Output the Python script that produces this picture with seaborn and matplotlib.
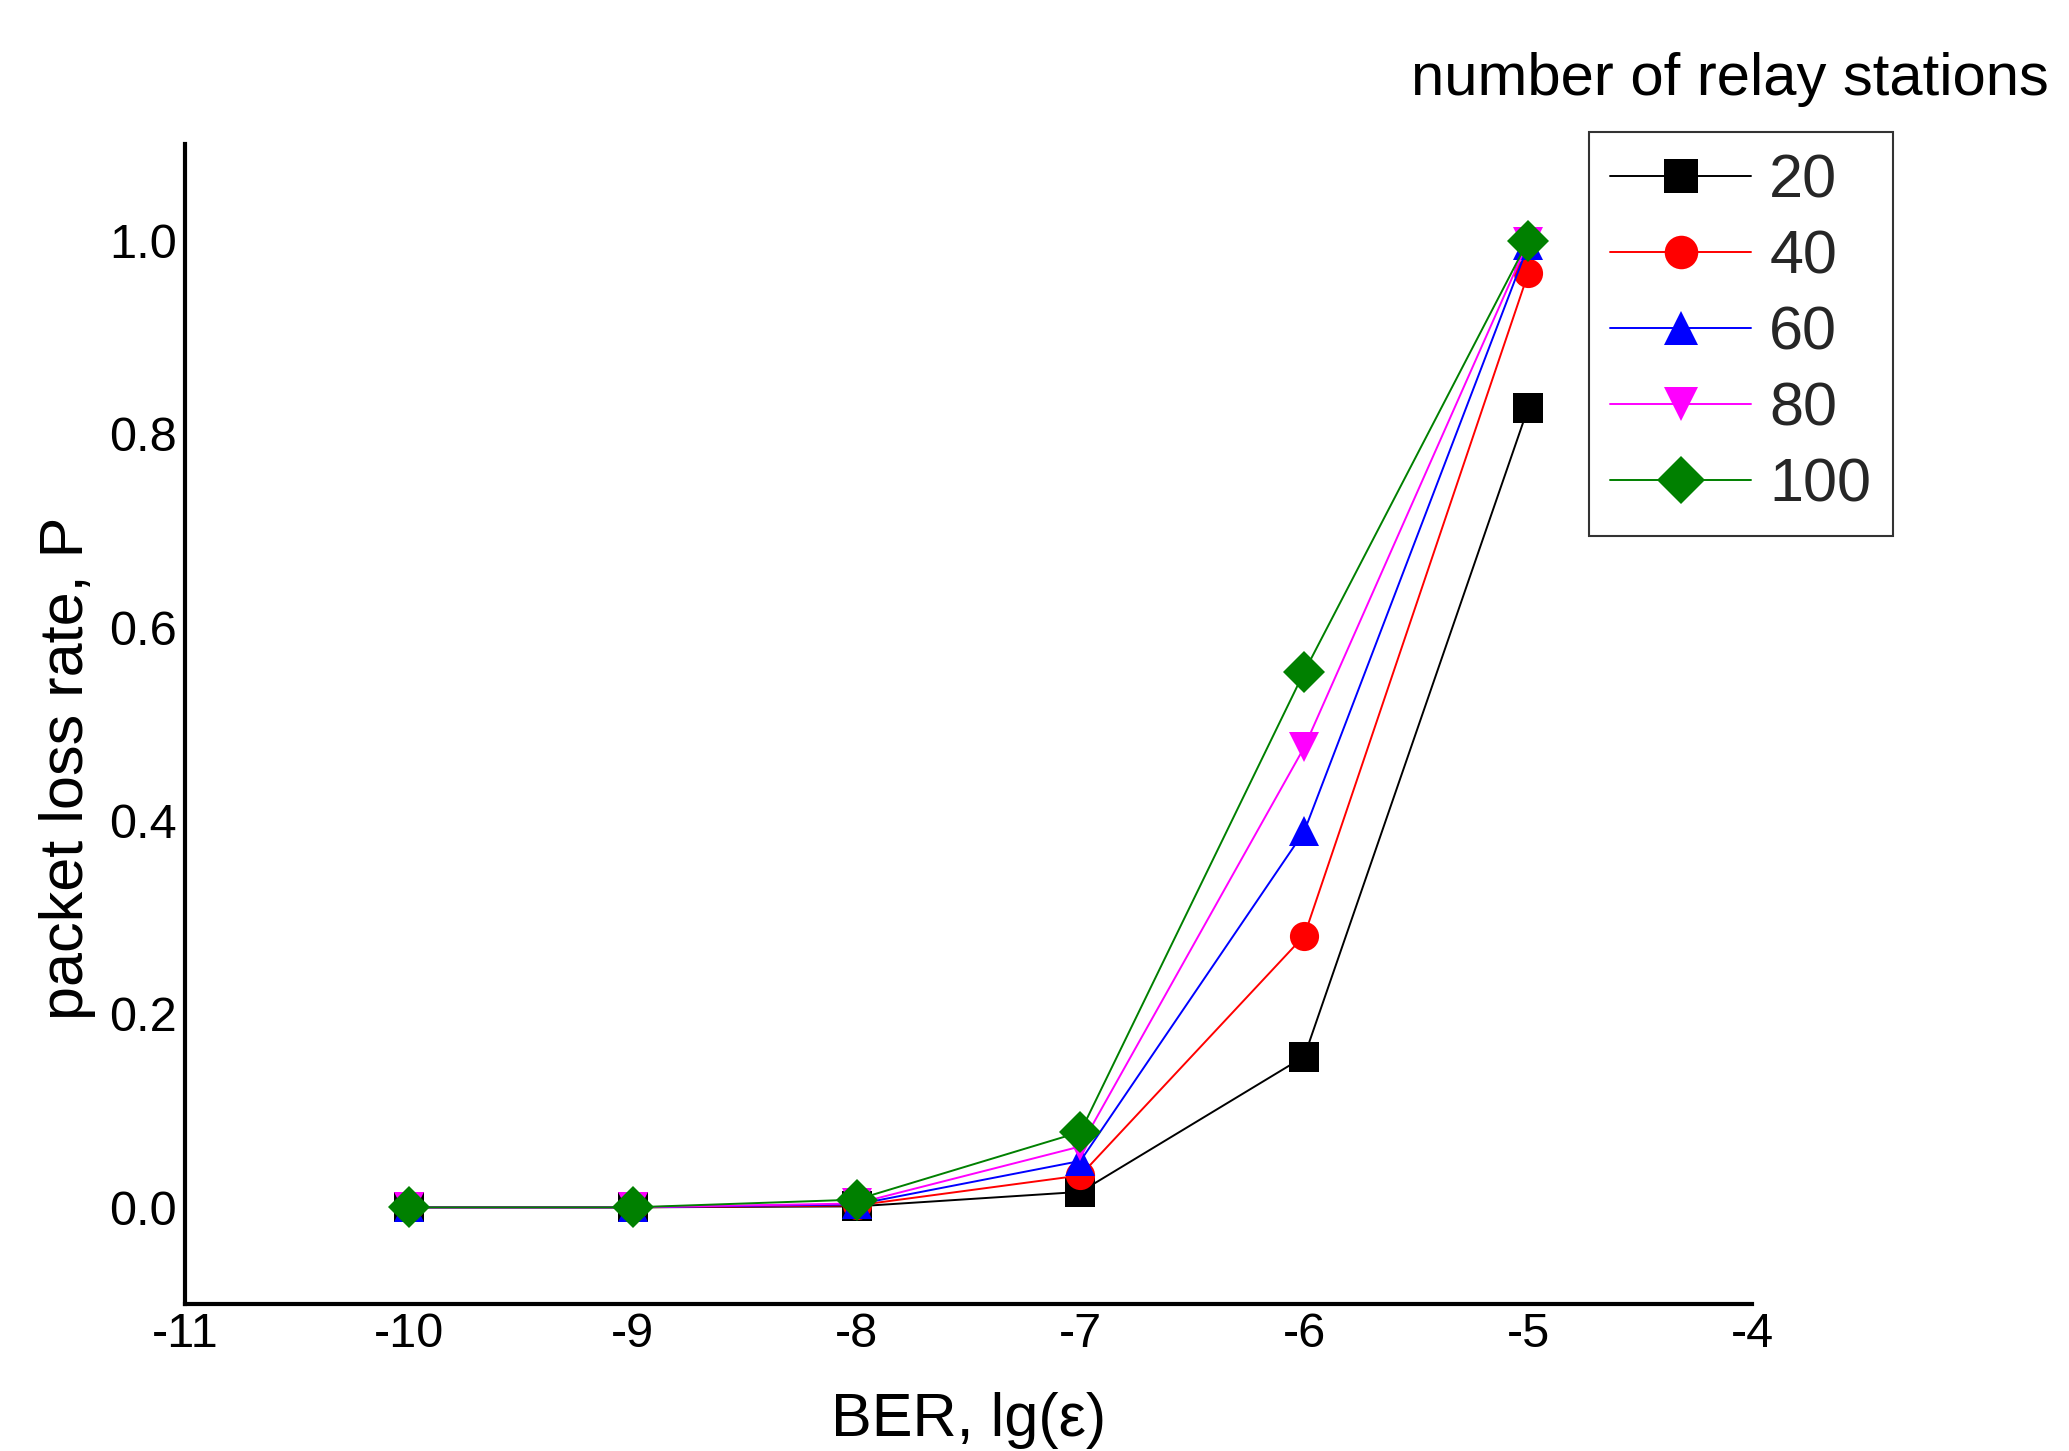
import numpy as np
import pandas as pd
import matplotlib
matplotlib.use("Agg")
import matplotlib.pyplot as plt
import seaborn as sns

ber = [-10, -9, -8, -7, -6, -5]
relays = ["20", "40", "60", "80", "100"]
loss_20 = [0.0, 0.0, 0.001, 0.016, 0.156, 0.827]
loss_40 = [0.0, 0.0, 0.002, 0.033, 0.281, 0.966]
loss_60 = [0.0, 0.0, 0.003, 0.048, 0.389, 0.995]
loss_80 = [0.0, 0.0, 0.004, 0.063, 0.476, 0.999]
loss_100 = [0.0, 0.0, 0.008, 0.078, 0.554, 1.0]

colors = ["black", "red", "blue", "magenta", "green"]
markers = ["s", "o", "^", "v", "D"]

rows = []
for name, vals in zip(relays, [loss_20, loss_40, loss_60, loss_80, loss_100]):
    for x, y in zip(ber, vals):
        rows.append({"ber": x, "loss": y, "relays": name})
df = pd.DataFrame(rows)

sns.set_theme(style="white")
plt.rcParams["font.family"] = ["Liberation Sans", "DejaVu Sans"]
plt.rcParams["axes.unicode_minus"] = False

fig = plt.figure(figsize=(20.69, 14.51), dpi=100)
ax = fig.add_axes([0.0894, 0.1013, 0.7574, 0.7995])

sns.lineplot(data=df, x="ber", y="loss", hue="relays", style="relays",
             hue_order=relays, style_order=relays,
             palette=dict(zip(relays, colors)), markers=dict(zip(relays, markers)),
             dashes=False, markersize=21, markeredgewidth=0, linewidth=1.4,
             ax=ax, legend=True)

ax.set_xlim(-11, -4)
ax.set_ylim(-0.1, 1.1)
ax.set_xticks(range(-11, -3))
ax.set_yticks([0.0, 0.2, 0.4, 0.6, 0.8, 1.0])
ax.set_yticklabels([f"{v:.1f}" for v in [0.0, 0.2, 0.4, 0.6, 0.8, 1.0]])
ax.tick_params(axis="both", length=0, labelsize=35, pad=6, colors="black")

for side in ["top", "right"]:
    ax.spines[side].set_visible(False)
for side in ["left", "bottom"]:
    ax.spines[side].set_color("black")
    ax.spines[side].set_linewidth(3)

ax.set_xlabel("BER, lg(ε)", fontsize=44, color="black")
ax.set_ylabel("packet loss rate, P", fontsize=44, color="black")
ax.xaxis.set_label_coords(0.5, -0.076)
ax.xaxis.label.set_va("top")
ax.yaxis.set_label_coords(-0.057, 0.462)

handles, labels = ax.get_legend_handles_labels()
ax.legend(handles, labels, loc="upper left", bbox_to_anchor=(0.768, 0.909),
          bbox_transform=fig.transFigure, fontsize=44, frameon=True,
          fancybox=False, edgecolor="black", handlelength=2.3,
          labelspacing=0.31, borderpad=0.35, borderaxespad=0,
          handletextpad=0.3, markerscale=1.15)
ax.get_legend().get_frame().set_linewidth(1.5)

fig.text(0.836, 0.9455, "number of relay stations", fontsize=43,
         ha="center", va="center", color="black")

fig.savefig("out.png", dpi=100)
